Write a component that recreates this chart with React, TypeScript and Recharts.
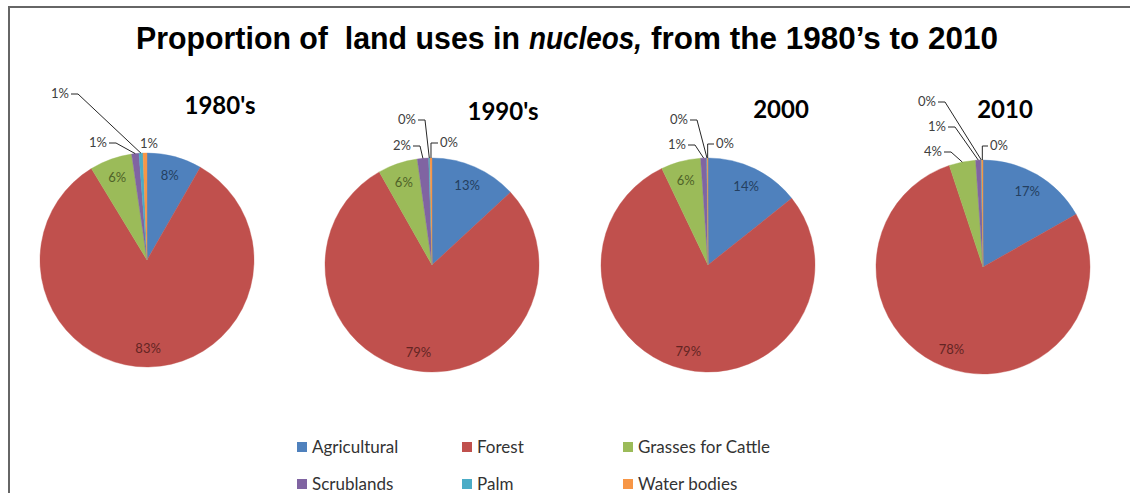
import React from 'react'
import { PieChart, Pie, Cell, Legend } from 'recharts'

// data (percent of land area)
const years = ["1980's", "1990's", '2000', '2010']
const categories = ['Agricultural', 'Forest', 'Grasses for Cattle', 'Scrublands', 'Palm', 'Water bodies']
const values1980 = [8.3, 83.0, 6.4, 1.1, 0.6, 0.6]
const values1990 = [13.1, 78.7, 6.0, 1.7, 0.2, 0.3]
const values2000 = [14.3, 78.6, 6.0, 0.9, 0.1, 0.1]
const values2010 = [16.8, 78.1, 4.0, 0.8, 0.1, 0.2]
const seriesByYear = [values1980, values1990, values2000, values2010]

const colors = ['#4F81BD', '#C0504D', '#9BBB59', '#8064A2', '#4BACC6', '#F79646']
const insideTextColors = ['#243F60', '#632523', '#4F6228', '#3F3151', '#205867', '#974806']

const FONT = 'Lato, "Open Sans", sans-serif'
const TITLE_FONT = '"Liberation Sans", Arial, sans-serif'
const RADIUS = 107
const RAD = Math.PI / 180

// pie centres and title positions
const pieLayout = [
  { cx: 147, cy: 260, titleX: 220, titleY: 104 },
  { cx: 432, cy: 265, titleX: 503, titleY: 110 },
  { cx: 708, cy: 265, titleX: 781, titleY: 108 },
  { cx: 983, cy: 267, titleX: 1005, titleY: 108 },
]

// main title, split so the italic word can be its own text
const titleParts = [
  { text: 'Proportion of  land uses in', x: 136, len: 384, italic: false },
  { text: 'nucleos,', x: 529, len: 113, italic: true },
  { text: 'from the 1980’s to 2010', x: 651, len: 347, italic: false },
]

type OutsideLabel = { dx: number; dy: number; side: 'left' | 'right'; line?: boolean }

// where the small-slice labels sit, relative to the top of each pie
const outsideLabels: Record<number, OutsideLabel>[] = [
  {
    3: { dx: -40, dy: -11, side: 'left' },
    4: { dx: -78, dy: -60, side: 'left' },
    5: { dx: -7, dy: -10, side: 'right', line: false },
  },
  {
    3: { dx: -21, dy: -13, side: 'left' },
    4: { dx: -16, dy: -39, side: 'left' },
    5: { dx: 8, dy: -16, side: 'right' },
  },
  {
    3: { dx: -22, dy: -14, side: 'left' },
    4: { dx: -20, dy: -39, side: 'left' },
    5: { dx: 8, dy: -15, side: 'right' },
  },
  {
    2: { dx: -41, dy: -9, side: 'left' },
    3: { dx: -37, dy: -34, side: 'left' },
    4: { dx: -47, dy: -59, side: 'left' },
    5: { dx: 7, dy: -15, side: 'right' },
  },
]

const makeLabel = (pieIndex: number) => (props: any) => {
  const { cx, cy, midAngle, outerRadius, percent, index } = props
  const text = `${Math.round(percent * 100)}%`
  const cfg = outsideLabels[pieIndex][index]

  if (!cfg) {
    const r = outerRadius * 0.82
    const x = cx + r * Math.cos(-midAngle * RAD)
    const y = cy + r * Math.sin(-midAngle * RAD)
    return (
      <text
        x={x}
        y={y}
        textAnchor="middle"
        dominantBaseline="central"
        fontFamily={FONT}
        fontSize={13}
        fill={insideTextColors[index]}
      >
        {text}
      </text>
    )
  }

  const px = cx + outerRadius * Math.cos(-midAngle * RAD)
  const py = cy + outerRadius * Math.sin(-midAngle * RAD)
  const tx = cx + cfg.dx
  const ty = cy - outerRadius + cfg.dy
  const showLine = cfg.line !== false
  const points =
    cfg.side === 'left'
      ? `${tx + 2},${ty + 1} ${tx + 9},${ty + 1} ${px},${py}`
      : `${px},${py} ${px},${ty + 1} ${tx - 2},${ty + 1}`

  return (
    <g>
      {showLine && <polyline points={points} fill="none" stroke="#262626" strokeWidth={1} />}
      <text
        x={tx}
        y={ty}
        textAnchor={cfg.side === 'left' ? 'end' : 'start'}
        dominantBaseline="central"
        fontFamily={FONT}
        fontSize={13}
        fill="#404040"
      >
        {text}
      </text>
    </g>
  )
}

const renderLegend = () => (
  <div
    style={{
      display: 'grid',
      gridTemplateColumns: '165px 161px 200px',
      gridAutoRows: '37px',
      fontFamily: FONT,
      fontSize: 17,
      color: '#333',
    }}
  >
    {categories.map((name, i) => (
      <div key={name} style={{ display: 'flex', alignItems: 'center', whiteSpace: 'nowrap' }}>
        <span style={{ width: 10, height: 10, background: colors[i], marginRight: 5 }} />
        {name}
      </div>
    ))}
  </div>
)

export default function App() {
  return (
    <div style={{ position: 'absolute', left: 0, top: 0, width: 1130, height: 493, background: '#fff', overflow: 'hidden' }}>
      <div
        style={{
          position: 'absolute',
          left: 8,
          top: 6,
          width: 1130,
          height: 500,
          borderTop: '2px solid #666',
          borderLeft: '2px solid #666',
        }}
      />
      <PieChart width={1130} height={493} margin={{ top: 0, right: 0, bottom: 0, left: 0 }}>
        {seriesByYear.map((values, p) => (
          <Pie
            key={years[p]}
            data={values.map((v, i) => ({ name: categories[i], value: v }))}
            dataKey="value"
            nameKey="name"
            cx={pieLayout[p].cx}
            cy={pieLayout[p].cy}
            outerRadius={RADIUS}
            startAngle={90}
            endAngle={-270}
            stroke="none"
            label={makeLabel(p)}
            labelLine={false}
            isAnimationActive={false}
          >
            {values.map((_, i) => (
              <Cell key={i} fill={colors[i]} stroke={colors[i]} strokeWidth={0.4} />
            ))}
          </Pie>
        ))}
        <Legend
          content={renderLegend}
          wrapperStyle={{ position: 'absolute', left: 297, top: 428, width: 540, bottom: 'auto' }}
        />
      </PieChart>
      <svg
        width={1130}
        height={493}
        style={{ position: 'absolute', left: 0, top: 0, pointerEvents: 'none' }}
      >
        {titleParts.map((t) => (
          <text
            key={t.text}
            x={t.x}
            y={49}
            textLength={t.len}
            lengthAdjust="spacingAndGlyphs"
            fontFamily={TITLE_FONT}
            fontWeight="bold"
            fontStyle={t.italic ? 'italic' : 'normal'}
            fontSize={32}
            fill="#000"
            style={{ whiteSpace: 'pre' }}
          >
            {t.text}
          </text>
        ))}
        {years.map((y, p) => (
          <text
            key={y}
            x={pieLayout[p].titleX}
            y={pieLayout[p].titleY}
            textAnchor="middle"
            dominantBaseline="central"
            fontFamily={FONT}
            fontWeight="bold"
            fontSize={24}
            fill="#000"
          >
            {y}
          </text>
        ))}
      </svg>
    </div>
  )
}
